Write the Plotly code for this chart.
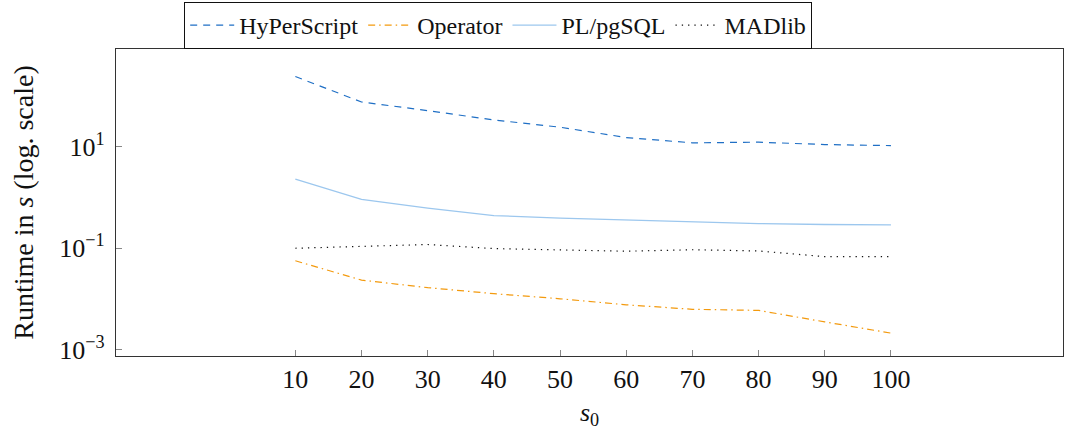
import plotly.graph_objects as go

s0 = [10, 20, 30, 40, 50, 60, 70, 80, 90, 100]
hyperscript = [245, 77, 52, 34, 24.5, 15.3, 12.0, 12.4, 11.1, 10.6]
operator = [0.0564, 0.0234, 0.0166, 0.0126, 0.0100, 0.0076, 0.0062, 0.0059, 0.0035, 0.0021]
plpgsql = [2.32, 0.92, 0.62, 0.44, 0.39, 0.36, 0.33, 0.306, 0.293, 0.288]
madlib = [0.0995, 0.11, 0.118, 0.098, 0.092, 0.087, 0.093, 0.088, 0.068, 0.068]

ytick_vals = [1e-3, 1e-1, 1e1]
ytick_text = ["10<sup>−3</sup>", "10<sup>−1</sup>", "10<sup>1</sup>"]

FONT = "'Liberation Serif', 'Times New Roman', 'DejaVu Serif', serif"

fig = go.Figure()
fig.add_trace(go.Scatter(x=s0, y=hyperscript, name="HyPerScript", mode="lines",
                         line=dict(color="#1f6fc5", width=1.2, dash="7px,6px")))
fig.add_trace(go.Scatter(x=s0, y=operator, name="Operator", mode="lines",
                         line=dict(color="#f39a0e", width=1.2, dash="7px,4px,1.5px,4px")))
fig.add_trace(go.Scatter(x=s0, y=plpgsql, name="PL/pgSQL", mode="lines",
                         line=dict(color="#9cc7ee", width=1.3)))
fig.add_trace(go.Scatter(x=s0, y=madlib, name="MADlib", mode="lines",
                         line=dict(color="#111111", width=1.2, dash="1.3px,5px")))

fig.update_layout(
    width=1065, height=430,
    margin=dict(l=116, r=2, t=47, b=74),
    paper_bgcolor="white", plot_bgcolor="white",
    font=dict(family=FONT, size=25, color="#111111"),
    showlegend=True,
    legend=dict(orientation="h", x=0.072, xanchor="left", y=1.0, yanchor="bottom",
                bordercolor="#111111", borderwidth=1, bgcolor="white",
                font=dict(family=FONT, size=24), itemwidth=44, tracegroupgap=0),
)
fig.update_xaxes(
    range=[-17.1, 126], tickvals=s0, ticktext=[str(v) for v in s0],
    tickfont=dict(family=FONT, size=26),
    showgrid=False, zeroline=False,
    showline=True, linecolor="#333333", linewidth=1.2, mirror=True,
    ticks="inside", ticklen=6, tickcolor="#888888",
    title=dict(text="<i>s</i><sub>0</sub>", font=dict(family=FONT, size=26), standoff=10),
)
fig.update_yaxes(
    type="log", range=[-3.13, 2.933], tickvals=ytick_vals, ticktext=ytick_text,
    tickfont=dict(family=FONT, size=26), ticklabelstandoff=5,
    showgrid=False, zeroline=False,
    showline=True, linecolor="#333333", linewidth=1.2, mirror=True,
    ticks="inside", ticklen=6, tickcolor="#888888",
    title=dict(text="Runtime in <i>s</i> (log. scale)", font=dict(family=FONT, size=28), standoff=17),
)

fig.write_html("out.html")
